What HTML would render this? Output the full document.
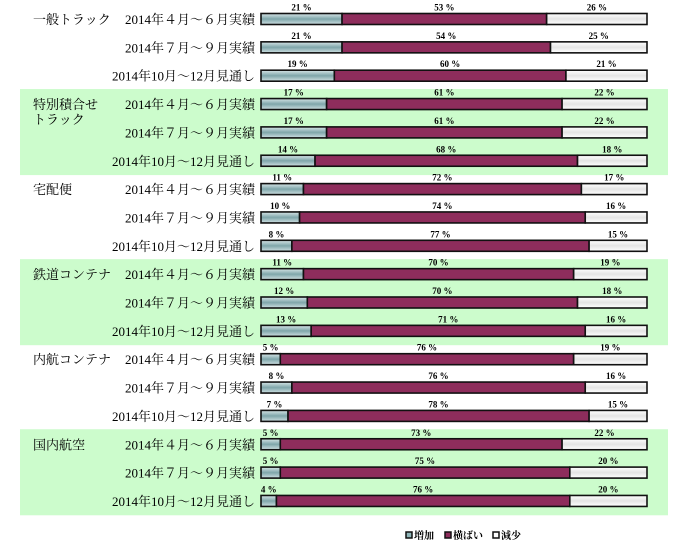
<!DOCTYPE html>
<html><head><meta charset="utf-8"><style>
body{margin:0;background:#fff;width:700px;height:546px;overflow:hidden}
svg text{font-family:"Liberation Serif","Noto Serif CJK JP",serif}
</style></head><body>
<svg id="c" width="700" height="546">
<defs>
<linearGradient id="gInc" x1="0" y1="0" x2="0" y2="1"><stop offset="0" stop-color="#d8e6e8"/><stop offset="0.5" stop-color="#7fa6aa"/><stop offset="1" stop-color="#cfe0e2"/></linearGradient>
<linearGradient id="gDec" x1="0" y1="0" x2="0" y2="1"><stop offset="0" stop-color="#ffffff"/><stop offset="0.5" stop-color="#e4e4e4"/><stop offset="1" stop-color="#ffffff"/></linearGradient>
</defs>
</svg>
<script>
const groups=["一般トラック","特別積合せ\nトラック","宅配便","鉄道コンテナ","内航コンテナ","国内航空"];
const periods=["2014年４月～６月実績","2014年７月～９月実績","2014年10月～12月見通し"];
const increase=[21,21,19,17,17,14,11,10,8,11,12,13,5,8,7,5,5,4];
const flat=[53,54,60,61,61,68,72,74,77,70,70,71,76,76,78,73,75,76];
const decrease=[26,25,21,22,22,18,17,16,15,19,18,16,19,16,15,22,20,20];
const legendLabels=["増加","横ばい","減少"];
const NS="http://www.w3.org/2000/svg";
const svg=document.getElementById('c');
const x0=261,W=386,rowY0=19,pitch=28.35,bh=11;
function xs(v,t){return v/t*W;}
function yr(i){return rowY0+i*pitch;}
function mk(tag,attrs,parent){const e=document.createElementNS(NS,tag);for(const k in attrs)e.setAttribute(k,attrs[k]);(parent||svg).appendChild(e);return e;}
groups.forEach((g,gi)=>{
  if(gi%2===1){const r=mk('rect',{x:20,y:yr(gi*3)-15,width:648,height:pitch*3+1,fill:'#ccfccc'});
  
  }
  const lines=g.split('\n');
  lines.forEach((l,li)=>{const t=mk('text',{x:33,y:yr(gi*3)+5+li*15,'font-size':13,fill:'#000'});t.textContent=l;
  
  });
});
increase.forEach((a,i)=>{
  const b=flat[i],c=decrease[i],tot=a+b+c,y=yr(i);
  const lab=mk('text',{x:255,y:y+5,'font-size':13,'text-anchor':'end',fill:'#000'});lab.textContent=periods[i%3];
  
  
  const segs=[[a,'url(#gInc)'],[b,'#8e2d5c'],[c,'url(#gDec)']];
  let x=x0;
  segs.forEach((s,si)=>{
    const w=xs(s[0],tot);
    const r=mk('rect',{x:x,y:y-bh/2,width:w,height:bh,fill:s[1],stroke:'#111','stroke-width':1.6});
    
    
    const t=mk('text',{x:x+w/2,y:y-bh/2-3,'font-size':9,'font-weight':'bold','text-anchor':'middle',fill:'#000','font-family':'Liberation Sans, sans-serif'});
    t.textContent=s[0]+' %';
    
    
    x+=w;
  });
});
const lc=['#8fb5b8','#8e2d5c','#ffffff'];let lx=406;
legendLabels.forEach((l,i)=>{
  const r=mk('rect',{x:lx,y:532,width:6,height:6,fill:lc[i],stroke:'#111','stroke-width':1.5});
  
  
  const t=mk('text',{x:lx+8,y:539,'font-size':10,'font-weight':'bold',fill:'#000','font-family':'Liberation Sans, Noto Sans CJK JP, sans-serif'});t.textContent=l;
  
  
  lx+= [39,48,0][i];
});
</script>
</body></html>
